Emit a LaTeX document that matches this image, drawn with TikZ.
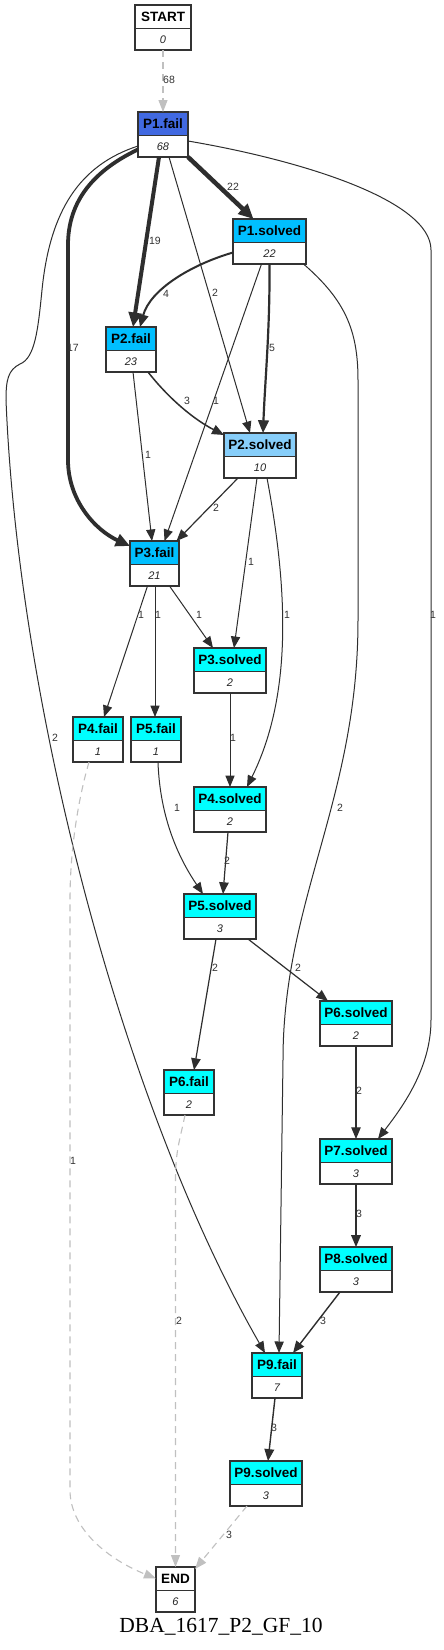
\documentclass[tikz,border=0pt]{standalone}
\usepackage{fontspec}
\setmainfont{Liberation Sans}
\newfontfamily\titlefont{Liberation Serif}
\usetikzlibrary{arrows.meta}
\definecolor{edgec}{HTML}{2E2E2E}
\definecolor{grayc}{HTML}{C0C0C0}
\definecolor{bordc}{HTML}{333333}
\definecolor{royal}{HTML}{4169E1}
\definecolor{deepsky}{HTML}{00BFFF}
\definecolor{lightsky}{HTML}{87CEFA}
\definecolor{cyanc}{HTML}{00FFFF}
\tikzset{
  nbox/.style={minimum height=45pt, inner sep=0pt, outer sep=0pt, fill=white},
  nline/.style={draw=bordc, line width=1.3pt},
  htext/.style={font=\bfseries\fontsize{13.5}{15}\selectfont, inner sep=0pt},
  ctext/.style={font=\itshape\fontsize{11}{12}\selectfont, inner sep=0pt, text=black!85},
  elab/.style={font=\fontsize{10.5}{12}\selectfont, inner sep=0pt, text=black!80},
  ed/.style={draw=edgec, line width=#1, -{Triangle[length=10.5pt 1, width=8pt 1.2]}},
  ed/.default=1pt,
  gd/.style={draw=grayc, line width=1.1pt, dash pattern=on 7pt off 5pt, -{Triangle[length=12pt, width=9pt]}},
}
\newcommand\gnode[7]{%
  \node[nbox, minimum width=#4pt, anchor=north] (#1) at (#2,#3) {};
  \fill[#5] (#1.north west) rectangle ([yshift=-23.5pt]#1.north east);
  \draw[nline] ([yshift=-23.5pt]#1.north west) -- ([yshift=-23.5pt]#1.north east);
  \draw[nline] (#1.north west) rectangle (#1.south east);
  \node[htext] (#1-h) at ([yshift=-12pt]#1.north) {#6};
  \node[ctext] (#1-c) at ([yshift=-34.5pt]#1.north) {#7};
}
\begin{document}
\begin{tikzpicture}[x=1pt, y=-1pt]
\useasboundingbox (0,0) rectangle (444,1650);
\fill[white] (0,0) rectangle (444,1650);

\gnode{start}{163}{5}{56}{white}{START}{0}
\gnode{p1f}{163}{112}{50}{royal}{P1.fail}{68}
\gnode{p1s}{269.5}{219}{73}{deepsky}{P1.solved}{22}
\gnode{p2f}{131}{327}{50}{deepsky}{P2.fail}{23}
\gnode{p2s}{260}{433}{72}{lightsky}{P2.solved}{10}
\gnode{p3f}{154.5}{541}{49}{deepsky}{P3.fail}{21}
\gnode{p3s}{230}{648}{72}{cyanc}{P3.solved}{2}
\gnode{p4f}{98}{717}{50}{cyanc}{P4.fail}{1}
\gnode{p5f}{156}{717}{50}{cyanc}{P5.fail}{1}
\gnode{p4s}{230}{787}{72}{cyanc}{P4.solved}{2}
\gnode{p5s}{220}{894}{72}{cyanc}{P5.solved}{3}
\gnode{p6s}{356}{1001}{72}{cyanc}{P6.solved}{2}
\gnode{p6f}{189}{1070}{50}{cyanc}{P6.fail}{2}
\gnode{p7s}{356}{1139}{72}{cyanc}{P7.solved}{3}
\gnode{p8s}{356}{1247}{72}{cyanc}{P8.solved}{3}
\gnode{p9f}{277}{1353}{50}{cyanc}{P9.fail}{7}
\gnode{p9s}{266}{1461}{72}{cyanc}{P9.solved}{3}
\gnode{end}{175.5}{1567}{39}{white}{END}{6}

% edges
\draw[gd] (start.south) -- (p1f.north);
\draw[ed=4.5pt] (p1f.south east) -- ([xshift=-16pt]p1s.north);
\draw[ed=4pt] ([xshift=-4pt]p1f.south) -- ([xshift=2pt]p2f.north);
\draw[ed=3.8pt] ([yshift=-15pt]p1f.west) .. controls (95,170) and (68,200) .. (68,245) -- (68,460) .. controls (68,500) and (95,530) .. ([yshift=-5pt]p3f.north west);
\draw[ed] ([xshift=6pt]p1f.south) -- ([xshift=-10pt]p2s.north);
\draw[ed] ([yshift=-11.5pt]p1f.west) .. controls (80,165) and (50,210) .. (42,290) .. controls (38,330) and (35,358) .. (20,364) .. controls (8,370) and (6,380) .. (6,400) .. controls (18,700) and (120,1100) .. ([xshift=-12pt]p9f.north);
\draw[ed] ([yshift=-6.5pt]p1f.east) .. controls (300,160) and (431,200) .. (431,250) -- (431,1020) .. controls (431,1070) and (400,1110) .. ([xshift=22pt]p7s.north);
\draw[ed=2pt] ([yshift=-11pt]p1s.west) .. controls (190,265) and (150,290) .. ([xshift=9pt]p2f.north);
\draw[ed=2.2pt] (p1s.south) .. controls (270,330) and (265,380) .. ([xshift=3pt]p2s.north);
\draw[ed] ([xshift=-8pt]p1s.south) -- ([xshift=10pt]p3f.north);
\draw[ed] ([xshift=34pt]p1s.south) .. controls (345,300) and (358,330) .. (358,380) -- (358,620) .. controls (358,800) and (283,900) .. (283,1060) -- ([xshift=2pt]p9f.north);
\draw[ed=1.5pt] ([xshift=17pt]p2f.south) .. controls (170,400) and (195,420) .. ([yshift=-2pt]p2s.north west);
\draw[ed] ([xshift=2pt]p2f.south) -- ([xshift=-2.5pt]p3f.north);
\draw[ed=1.2pt] ([xshift=-22pt]p2s.south) -- ([xshift=22pt]p3f.north);
\draw[ed] ([xshift=-3pt]p2s.south) -- ([xshift=4pt]p3s.north);
\draw[ed] ([xshift=7pt]p2s.south) .. controls (290,600) and (290,700) .. ([xshift=17pt]p4s.north);
\draw[ed] ([xshift=-7pt]p3f.south) -- ([xshift=6pt]p4f.north);
\draw[ed] ([xshift=0.5pt]p3f.south) -- ([xshift=-1pt]p5f.north);
\draw[ed] ([xshift=15pt]p3f.south) -- ([xshift=-17pt]p3s.north);
\draw[ed] (p3s.south) -- (p4s.north);
\draw[gd] ([xshift=-9pt]p4f.south) .. controls (78,800) and (70,850) .. (70,900) -- (70,1490) .. controls (70,1530) and (110,1560) .. ([yshift=11pt]end.west);
\draw[ed] ([xshift=2pt]p5f.south) .. controls (160,820) and (180,860) .. ([xshift=-17pt]p5s.north);
\draw[ed=1.2pt] ([xshift=-2pt]p4s.south) -- ([xshift=3pt]p5s.north);
\draw[ed=1.2pt] ([xshift=-4pt]p5s.south) -- ([xshift=5pt]p6f.north);
\draw[ed=1.2pt] ([xshift=28pt]p5s.south) -- ([xshift=-28pt]p6s.north);
\draw[ed=1.2pt] (p6s.south) -- (p7s.north);
\draw[gd] ([xshift=-4pt]p6f.south) .. controls (180,1140) and (175.5,1150) .. (175.5,1180) -- (end.north);
\draw[ed=1.4pt] (p7s.south) -- (p8s.north);
\draw[ed=1.4pt] ([xshift=-16pt]p8s.south) -- ([xshift=16pt]p9f.north);
\draw[ed=1.4pt] ([xshift=-2pt]p9f.south) -- ([xshift=2pt]p9s.north);
\draw[gd] ([xshift=-19pt]p9s.south) -- ([yshift=-2pt]end.north east);

% edge labels
\node[elab] (l1) at (169,80) {68};
\node[elab] (l2) at (233,187) {22};
\node[elab] (l3) at (155,241) {19};
\node[elab] (l4) at (73,348) {17};
\node[elab] (l5) at (215,293) {2};
\node[elab] (l6) at (55,738) {2};
\node[elab] (l7) at (433,615) {1};
\node[elab] (l8) at (166,294) {4};
\node[elab] (l9) at (272,348) {5};
\node[elab] (l10) at (216,401) {1};
\node[elab] (l11) at (340,808) {2};
\node[elab] (l12) at (187,401) {3};
\node[elab] (l13) at (148,455) {1};
\node[elab] (l14) at (216,508) {2};
\node[elab] (l15) at (251,562) {1};
\node[elab] (l16) at (287,615) {1};
\node[elab] (l17) at (141,615) {1};
\node[elab] (l18) at (158,615) {1};
\node[elab] (l19) at (199,615) {1};
\node[elab] (l20) at (233,738) {1};
\node[elab] (l21) at (73,1161) {1};
\node[elab] (l22) at (177,808) {1};
\node[elab] (l23) at (227,861) {2};
\node[elab] (l24) at (215,968) {2};
\node[elab] (l25) at (298,968) {2};
\node[elab] (l26) at (359,1091) {2};
\node[elab] (l27) at (179,1321) {2};
\node[elab] (l28) at (359,1214) {3};
\node[elab] (l29) at (323,1321) {3};
\node[elab] (l30) at (274,1428) {3};
\node[elab] (l31) at (229,1535) {3};

\node[font=\titlefont\fontsize{21.5}{24}\selectfont, inner sep=0pt] (title) at (221,1627) {DBA\_1617\_P2\_GF\_10};
\end{tikzpicture}
\end{document}
